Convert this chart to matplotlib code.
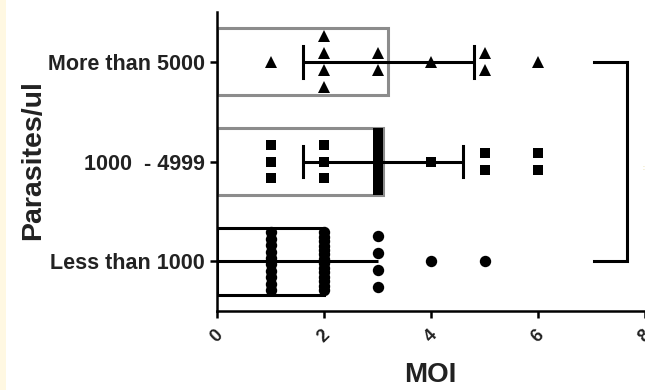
import matplotlib.pyplot as plt
import matplotlib.patches as patches
import numpy as np

# Data
categories = ["Less than 1000", "1000  - 4999", "More than 5000"]
markers = ['o', 's', '^']
edge_colors = ['black', '#8c8c8c', '#8c8c8c']

moi_low = [1] * 10 + [2] * 14 + [3] * 4 + [4] + [5]
moi_mid = [1] * 3 + [2] * 3 + [3] * 9 + [4] + [5] * 2 + [6] * 2
moi_high = [1] + [2] * 4 + [3] * 2 + [4] + [5] * 2 + [6]
groups = [moi_low, moi_mid, moi_high]

bar_means = [2.0, 3.1, 3.2]
err_lo = [0.0, 1.6, 1.6]
err_hi = [3.0, 4.6, 4.8]

plt.rcParams['font.family'] = ['Liberation Sans', 'DejaVu Sans']

fig = plt.figure(figsize=(6.45, 3.9), dpi=100)
fig.patches.append(patches.Rectangle((0, 0), 6 / 645, 1, transform=fig.transFigure,
                                     facecolor='#fff8e2', edgecolor='none', zorder=0))
ax = fig.add_axes([217 / 645, 1 - 311 / 390, 428 / 645, 299 / 390])

ypos = np.arange(len(categories))
lw = 2.2
cap_half = [0.0, 0.16, 0.16]  # bottom caps are hidden under the dots

# bars
for y, m, ec in zip(ypos, bar_means, edge_colors):
    ax.barh(y, m, height=0.67, facecolor='white', edgecolor=ec, linewidth=lw, zorder=1)

# scatter points, spread in a column where values repeat
for y, vals, mk in zip(ypos, groups, markers):
    vals = np.array(vals)
    ms = 8.5 if mk == '^' else (7.5 if mk == 's' else 8.2)
    for v in np.unique(vals):
        n = np.sum(vals == v)
        half = min(0.085 * (n - 1), 0.29)
        offs = np.linspace(-half, half, n) if n > 1 else np.array([0.0])
        ax.plot(np.full(n, v), y - offs, linestyle='none', marker=mk, ms=ms,
                color='black', markeredgewidth=0, zorder=3)

# error bars (mean +/- SD)
for i, y in enumerate(ypos):
    lo, hi = err_lo[i], err_hi[i]
    ax.plot([lo, hi], [y, y], color='black', lw=lw, zorder=2, solid_capstyle='butt')
    if cap_half[i] > 0:
        for xc in (lo, hi):
            ax.plot([xc, xc], [y - cap_half[i], y + cap_half[i]], color='black', lw=lw, zorder=2)

# significance bracket
bx0, bx1 = 7.04, 7.66
ax.plot([bx0, bx1, bx1, bx0], [ypos[-1], ypos[-1], ypos[0], ypos[0]],
        color='black', lw=lw, solid_joinstyle='miter', clip_on=False)
ax.text(7.96, 0.93, ':', fontsize=5, color='#e0c878', ha='center', va='center', clip_on=False)

ax.set_xlim(0, 8)
ax.set_ylim(-0.5, 2.5)
ax.set_xticks([0, 2, 4, 6, 8])
ax.set_yticks(ypos)
ax.set_yticklabels(categories, fontsize=15.5, fontweight='bold', color='#222222')
ax.set_xticklabels(['0', '2', '4', '6', '8'], fontsize=13, fontweight='bold',
                   rotation=45, ha='center', color='#222222')

for s in ['top', 'right']:
    ax.spines[s].set_visible(False)
for s in ['left', 'bottom']:
    ax.spines[s].set_linewidth(1.8)
ax.tick_params(axis='both', width=1.8, length=5)
ax.tick_params(axis='y', pad=4)
ax.tick_params(axis='x', pad=6)

ax.set_xlabel('MOI', fontsize=20, fontweight='bold', color='#222222')
ax.set_ylabel('Parasites/ul', fontsize=20.5, fontweight='bold', color='#222222')
ax.xaxis.set_label_coords(0.498, -0.17)
ax.yaxis.set_label_coords(-0.40, 0.505)

fig.savefig('out.png', dpi=100)
